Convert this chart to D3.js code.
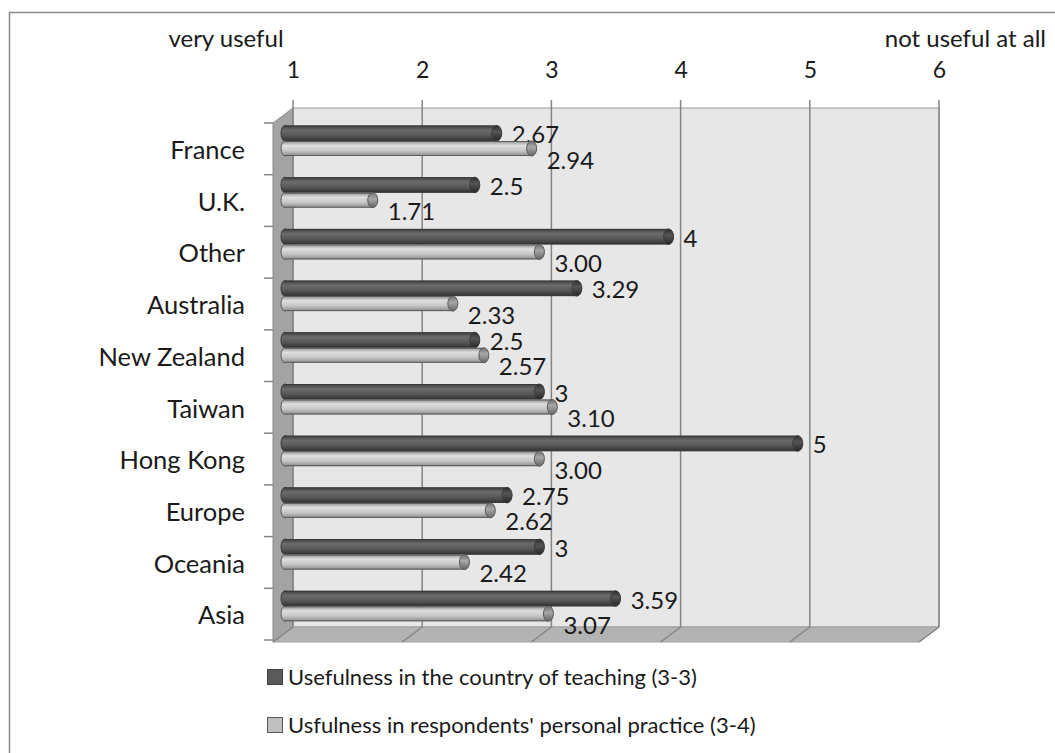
<!DOCTYPE html>
<html><head><meta charset="utf-8">
<script src="https://cdn.jsdelivr.net/npm/d3@7"></script>
<style>body{margin:0;background:#fff}svg{display:block}text{font-family:Lato,"Open Sans",sans-serif;fill:#1a1a1a}</style>
</head><body>
<script>
const categories = ["France","U.K.","Other","Australia","New Zealand","Taiwan","Hong Kong","Europe","Oceania","Asia"];
const countryTeaching = [2.67,2.5,4,3.29,2.5,3,5,2.75,3,3.59];
const personalPractice = [2.94,1.71,3.00,2.33,2.57,3.10,3.00,2.62,2.42,3.07];
const tickValues = [1,2,3,4,5,6];
const seriesNames = ["Usefulness in the country of teaching (3-3)","Usfulness in respondents' personal practice (3-4)"];
const axisEnds = ["very useful","not useful at all"];

const W=1055,H=753;
const svg=d3.select("body").append("svg").attr("width",W).attr("height",H);
const defs=svg.append("defs");
function grad(id,stops){const g=defs.append("linearGradient").attr("id",id).attr("x1",0).attr("x2",0).attr("y1",0).attr("y2",1);
 stops.forEach(s=>g.append("stop").attr("offset",s[0]).attr("stop-color",s[1]));}
grad("gDark",[[0,"#3c3c3c"],[0.3,"#6c6c6c"],[0.65,"#575757"],[1,"#303030"]]);
grad("gLight",[[0,"#8e8e8e"],[0.3,"#dedede"],[0.65,"#c6c6c6"],[1,"#8a8a8a"]]);
grad("gDarkCap",[[0,"#2e2e2e"],[0.4,"#555"],[1,"#262626"]]);
grad("gLightCap",[[0,"#6e6e6e"],[0.4,"#a8a8a8"],[1,"#666"]]);

// frame
svg.append("rect").attr("x",9.5).attr("y",12.5).attr("width",1100).attr("height",800).attr("fill","none").attr("stroke","#8a8a8a").attr("stroke-width",1.5);

const dx=20, dy=15; // depth offset
const x=d3.scaleLinear().domain([1,6]).range([293,939]);
const yBack=108, yFloorBack=627;
const y=d3.scaleBand().domain(categories).range([123,640]);

// back wall
svg.append("rect").attr("x",x(1)).attr("y",yBack).attr("width",x(6)-x(1)).attr("height",yFloorBack-yBack).attr("fill","#e7e7e7").attr("stroke","#9a9a9a");
// left wall
svg.append("path").attr("d",`M${x(1)-dx},${yBack+dy}L${x(1)},${yBack}L${x(1)},${yFloorBack}L${x(1)-dx},${yFloorBack+dy}Z`).attr("fill","#a3a3a3").attr("stroke","#8c8c8c");
// floor
svg.append("path").attr("d",`M${x(1)},${yFloorBack}L${x(6)},${yFloorBack}L${x(6)-dx},${yFloorBack+dy}L${x(1)-dx},${yFloorBack+dy}Z`).attr("fill","#b3b3b3").attr("stroke","#a0a0a0");
// gridlines
tickValues.forEach(v=>{
 svg.append("line").attr("x1",x(v)).attr("x2",x(v)).attr("y1",yBack-8).attr("y2",yFloorBack).attr("stroke","#858585").attr("stroke-width",1.5);
 svg.append("line").attr("x1",x(v)).attr("x2",x(v)-dx).attr("y1",yFloorBack).attr("y2",yFloorBack+dy).attr("stroke","#858585").attr("stroke-width",1.5);
});
// top axis via d3
const axis=d3.axisTop(x).tickValues(tickValues).tickFormat(d3.format("d")).tickSize(0).tickPadding(0);
const ag=svg.append("g").attr("transform","translate(0,78)").call(axis);
ag.select(".domain").remove();
ag.selectAll("text").attr("font-size",23).attr("fill","#1a1a1a").attr("font-family","Lato,sans-serif").attr("dy",0);

svg.append("text").attr("x",226).attr("y",47).attr("text-anchor","middle").attr("font-size",24).text(axisEnds[0]);
svg.append("text").attr("x",1046).attr("y",47).attr("text-anchor","end").attr("font-size",24).text(axisEnds[1]);

// category ticks & labels
categories.concat(["_end"]).forEach((c,i)=>{
 const yy = i<categories.length? y(c) : y.range()[1];
 svg.append("line").attr("x1",264).attr("x2",x(1)-dx).attr("y1",yy).attr("y2",yy).attr("stroke","#858585").attr("stroke-width",1.5);
});
svg.append("g").selectAll("text").data(categories).join("text")
 .attr("x",245).attr("y",c=>y(c)+36).attr("text-anchor","end").attr("font-size",25.5).text(c=>c);

// bars
const x0=x(1)-12;
const bx=v=>x(v)-12;
function bar(vals,top,h,fill,cap,stroke,fmt,ldy){
 const g=svg.append("g");
 vals.forEach((v,i)=>{
  const yy=y(categories[i])+top;
  g.append("ellipse").attr("cx",x0+4).attr("cy",yy+h/2).attr("rx",4).attr("ry",h/2).attr("fill",fill).attr("stroke",stroke).attr("stroke-width",1);
  g.append("rect").attr("x",x0+4).attr("y",yy).attr("width",bx(v)-x0-4).attr("height",h).attr("fill",fill);
  g.append("line").attr("x1",x0+4).attr("x2",bx(v)).attr("y1",yy+0.5).attr("y2",yy+0.5).attr("stroke",stroke);
  g.append("line").attr("x1",x0+4).attr("x2",bx(v)).attr("y1",yy+h-0.5).attr("y2",yy+h-0.5).attr("stroke",stroke);
  g.append("ellipse").attr("cx",bx(v)).attr("cy",yy+h/2).attr("rx",5).attr("ry",h/2).attr("fill",cap).attr("stroke",stroke).attr("stroke-width",1);
  g.append("text").attr("x",bx(v)+15).attr("y",yy+h/2+ldy).attr("font-size",24).text(fmt(v));
 });
}
bar(countryTeaching,2.5,15.5,"url(#gDark)","url(#gDarkCap)","#3a3a3a",v=>String(v),10);
bar(personalPractice,18,15,"url(#gLight)","url(#gLightCap)","#5a5a5a",d3.format(".2f"),20);

// legend
const lg=svg.append("g");
seriesNames.forEach((s,i)=>{
 const ly=669+i*48;
 lg.append("rect").attr("x",267.5).attr("y",ly+0.5).attr("width",15).attr("height",15).attr("fill",i?"#c0c0c0":"#5a5a5a").attr("stroke",i?"#595959":"#404040");
 lg.append("text").attr("x",288).attr("y",ly+16).attr("font-size",22).text(s);
});
</script>
</body></html>
